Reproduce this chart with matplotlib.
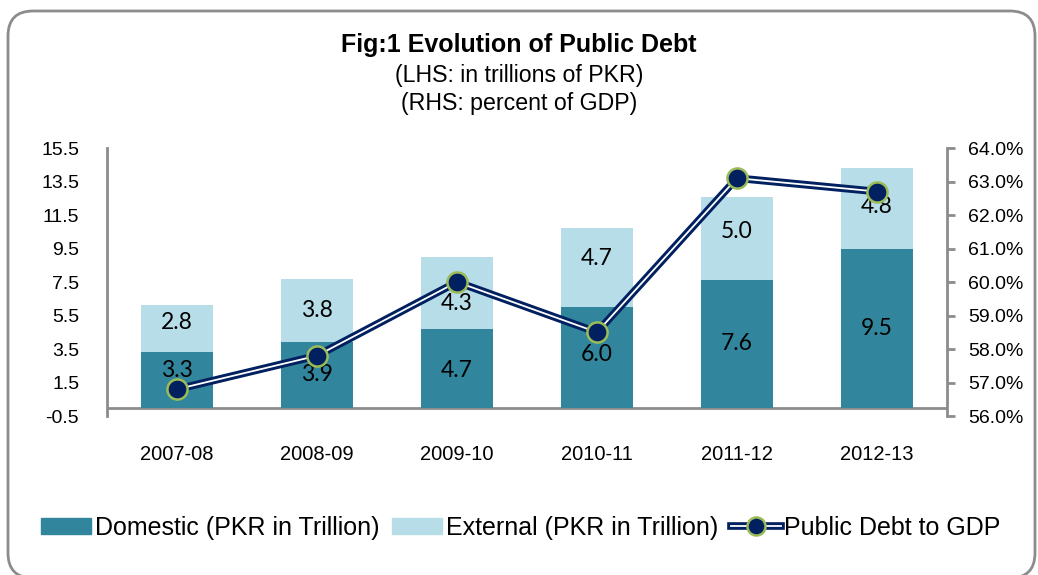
import matplotlib
matplotlib.use("Agg")
import numpy as np
import matplotlib.pyplot as plt
from matplotlib.patches import FancyBboxPatch, Patch
from matplotlib.lines import Line2D
from matplotlib.legend_handler import HandlerTuple
from matplotlib.ticker import FuncFormatter

plt.rcParams['font.family'] = ['Liberation Sans', 'DejaVu Sans']

years = ["2007-08", "2008-09", "2009-10", "2010-11", "2011-12", "2012-13"]
domestic = [3.3, 3.9, 4.7, 6.0, 7.6, 9.5]       # PKR trillion
external = [2.8, 3.8, 4.3, 4.7, 5.0, 4.8]       # PKR trillion
debt_to_gdp = [56.8, 57.8, 60.0, 58.5, 63.1, 62.7]  # percent of GDP

# small nudges (trillions) so the bar numbers clear the line markers
dom_shift = [0.55, 0.0, -0.15, 0.2, 0.0, 0.0]
ext_shift = [0.4, 0.0, -0.65, 0.55, 0.4, 0.1]

DOM_COL = "#31859c"
EXT_COL = "#b7dde8"
LINE_COL = "#002060"
EDGE_COL = "#9bbb59"
GREY = "#8c8c8c"

fig = plt.figure(figsize=(10.38, 5.75), dpi=100)
ax = fig.add_axes([0.1031, 0.2765, 0.8092, 0.4661])
ax2 = ax.twinx()

x = np.arange(len(years))
ax.bar(x, domestic, width=0.52, color=DOM_COL, zorder=2)
ax.bar(x, external, width=0.52, bottom=domestic, color=EXT_COL, zorder=2)

for i in range(len(years)):
    ax.text(x[i], domestic[i] / 2 + dom_shift[i], f"{domestic[i]:.1f}",
            ha="center", va="center", fontsize=16.5, family="Lato", zorder=3)
    ax.text(x[i], domestic[i] + external[i] / 2 + ext_shift[i], f"{external[i]:.1f}",
            ha="center", va="center", fontsize=16.5, family="Lato", zorder=3)

ax.set_xlim(-0.5, len(years) - 0.5)
ax.set_ylim(-0.5, 15.5)
ax.set_yticks(np.arange(-0.5, 15.6, 2))
ax.yaxis.set_major_formatter(FuncFormatter(lambda v, p: f"{v:.1f}"))
ax.axhline(0, color=GREY, lw=2, zorder=1)
ax.set_xticks(x)
ax.set_xticklabels(years)
ax.tick_params(axis="x", length=0, pad=21, labelsize=14.5)
ax.tick_params(axis="y", length=0, pad=20, labelsize=14)
for s in ["top", "bottom", "right"]:
    ax.spines[s].set_visible(False)
ax.spines["left"].set_color(GREY)
ax.spines["left"].set_linewidth(2)

# double-stroke line for debt to GDP
ax2.plot(x, debt_to_gdp, color=LINE_COL, lw=5.5, solid_capstyle="butt", zorder=4)
ax2.plot(x, debt_to_gdp, color="white", lw=1.3, zorder=5)
ax2.plot(x, debt_to_gdp, ls="none", marker="o", ms=14.5, mfc=LINE_COL,
         mec=EDGE_COL, mew=1.8, zorder=6)
ax2.set_ylim(56, 64)
ax2.set_yticks(np.arange(56, 64.1, 1))
ax2.yaxis.set_major_formatter(FuncFormatter(lambda v, p: f"{v:.1f}%"))
ax2.tick_params(axis="y", length=6, width=2, color=GREY, pad=9, labelsize=14)
for s in ["top", "bottom", "left"]:
    ax2.spines[s].set_visible(False)
ax2.spines["right"].set_color(GREY)
ax2.spines["right"].set_linewidth(2)

fig.text(0.5, 0.921, "Fig:1 Evolution of Public Debt", ha="center", va="center",
         fontsize=18, fontweight="bold")
fig.text(0.5, 0.869, "(LHS: in trillions of PKR)", ha="center", va="center", fontsize=16.7)
fig.text(0.5, 0.820, "(RHS: percent of GDP)", ha="center", va="center", fontsize=16.7)

h_dom = Patch(color=DOM_COL)
h_ext = Patch(color=EXT_COL)
h_line = (Line2D([], [], color=LINE_COL, lw=5.5),
          Line2D([], [], color="white", lw=1.3, marker="o", ms=13,
                 mfc=LINE_COL, mec=EDGE_COL, mew=1.8))
fig.legend([h_dom, h_ext, h_line],
           ["Domestic (PKR in Trillion)", "External (PKR in Trillion)", "Public Debt to GDP"],
           loc="center", bbox_to_anchor=(0.502, 0.082), ncol=3, frameon=False,
           fontsize=18, handlelength=2.0, handleheight=0.6, handletextpad=0.15,
           columnspacing=0.5, borderaxespad=0,
           handler_map={tuple: HandlerTuple(ndivide=1)})

# rounded outer frame
frame = FancyBboxPatch((0.08, -0.03), 10.27, 5.67,
                       boxstyle="round,pad=0,rounding_size=0.25",
                       transform=fig.dpi_scale_trans, fill=False,
                       edgecolor=GREY, lw=2)
fig.add_artist(frame)

fig.savefig("out.png", dpi=100)
